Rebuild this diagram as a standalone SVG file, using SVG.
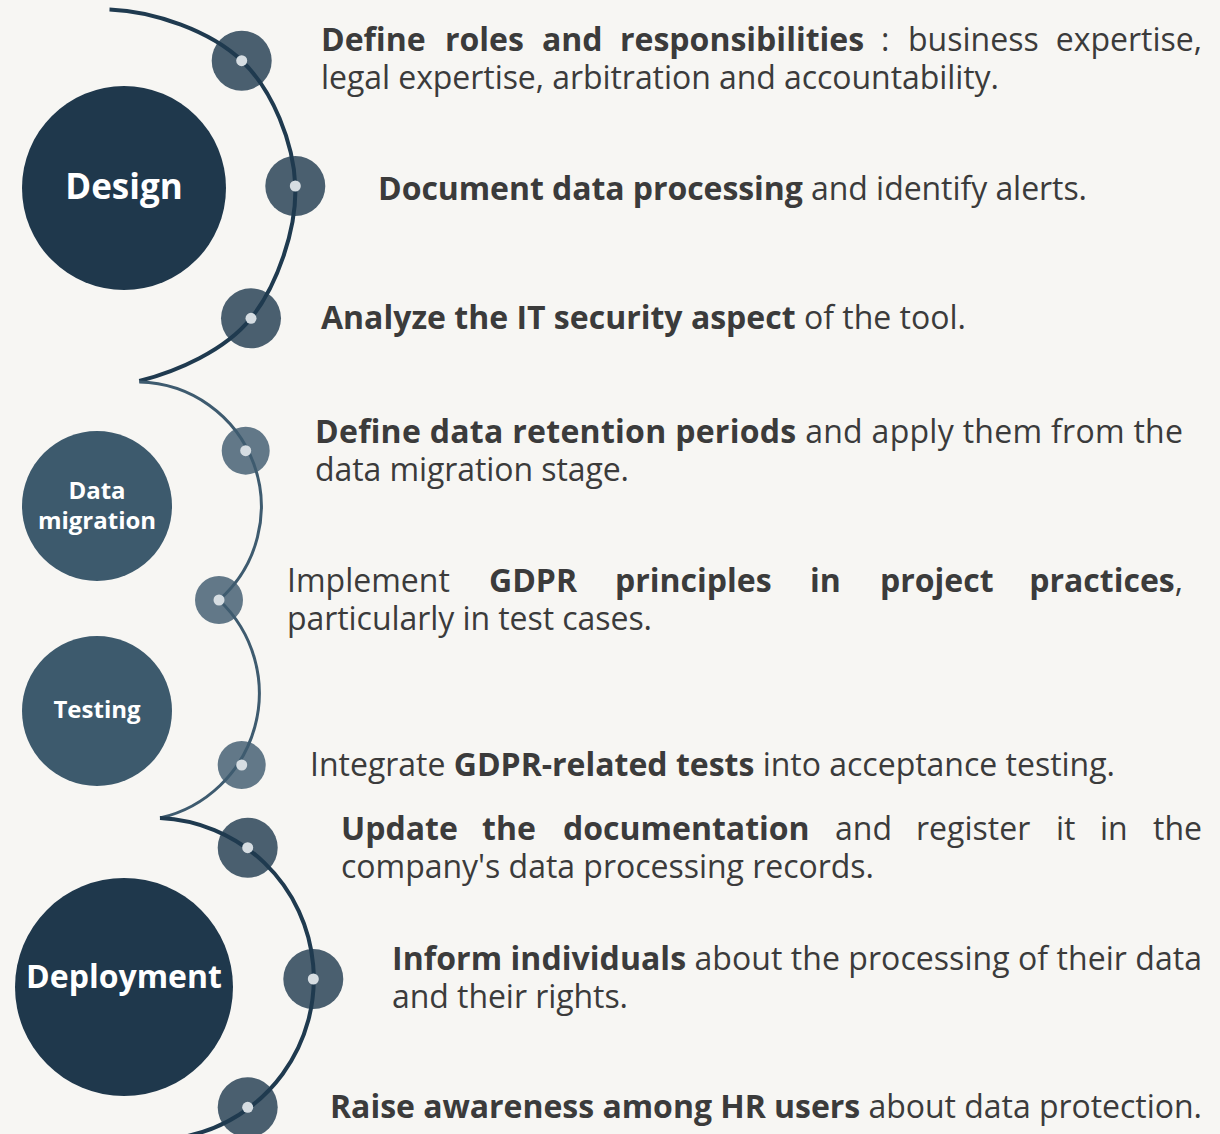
<svg xmlns="http://www.w3.org/2000/svg" width="1220" height="1134" viewBox="0 0 1220 1134">
<style>
  .t { font-family: "Open Sans", "Liberation Sans", sans-serif; font-size: 32px; fill: #3b3b3b; }
  .b { font-weight: bold; }
  .lbl { font-family: "Open Sans", "Liberation Sans", sans-serif; font-weight: bold; fill: #ffffff; text-anchor: middle; }
  .dk { fill: #1f384c; }
  .md { fill: #3d5a6d; }
  .dotA { fill: #4a5f6f; }
  .dotB { fill: #627888; }
  .pin { fill: #d6dde2; }
  .lineA { fill: none; stroke: #1f3a4f; stroke-width: 4; }
  .lineB { fill: none; stroke: #3e5b6f; stroke-width: 3; }
</style>
<rect width="1220" height="1134" fill="#f7f6f3"/>

<g id="phase-design">
  <circle class="dk" cx="124" cy="188" r="102"/>
  <text class="lbl" x="124" y="199" font-size="35">Design</text>
</g>
<g id="phase-data-migration">
  <circle class="md" cx="97" cy="506" r="75"/>
  <text class="lbl" x="97" y="499" font-size="24">Data</text>
  <text class="lbl" x="97" y="529" font-size="24">migration</text>
</g>
<g id="phase-testing">
  <circle class="md" cx="97" cy="711" r="75"/>
  <text class="lbl" x="97" y="718" font-size="24">Testing</text>
</g>
<g id="phase-deployment">
  <circle class="dk" cx="124" cy="987" r="109"/>
  <text class="lbl" x="124" y="988" font-size="32">Deployment</text>
</g>

<g id="dots-back">
  <circle class="dotA" cx="241.7" cy="60.7" r="30"/>
  <circle class="dotA" cx="295.3" cy="186" r="30"/>
  <circle class="dotA" cx="251" cy="318.3" r="30"/>
  <circle class="dotB" cx="245.7" cy="450.7" r="24"/>
  <circle class="dotB" cx="219" cy="600" r="24"/>
  <circle class="dotB" cx="241.7" cy="765" r="24"/>
  <circle class="dotA" cx="247.7" cy="847.7" r="30"/>
  <circle class="dotA" cx="313.3" cy="979" r="30"/>
  <circle class="dotA" cx="247.7" cy="1107.3" r="30"/>
</g>

<g id="connectors">
  <path class="lineA" d="M109.5,9.5 C154.5,11.2 210.7,31.3 241.7,60.7 C272.7,90.1 293.75,143.1 295.3,186 C296.85,228.9 277,286 251,318.3 C225,350.6 176.6,371.7 139.3,381"/>
  <path class="lineB" d="M139.3,382 A124.5 124.5 0 0 1 219,600"/>
  <path class="lineB" d="M219,600 A128 128 0 0 1 160,818"/>
  <path class="lineA" d="M160,818 A161 161 0 0 1 187.7,1136"/>
</g>

<g id="dots-pins">
  <circle class="pin" cx="241.7" cy="60.7" r="5.5"/>
  <circle class="pin" cx="295.3" cy="186" r="5.5"/>
  <circle class="pin" cx="251" cy="318.3" r="5.5"/>
  <circle class="pin" cx="245.7" cy="450.7" r="5.5"/>
  <circle class="pin" cx="219" cy="600" r="5.5"/>
  <circle class="pin" cx="241.7" cy="765" r="5.5"/>
  <circle class="pin" cx="247.7" cy="847.7" r="5.5"/>
  <circle class="pin" cx="313.3" cy="979" r="5.5"/>
  <circle class="pin" cx="247.7" cy="1107.3" r="5.5"/>
</g>

<g id="text-1">
  <text class="t" y="51"><tspan class="b" x="321">Define</tspan><tspan class="b" x="445">roles</tspan><tspan class="b" x="542">and</tspan><tspan class="b" x="620">responsibilities</tspan><tspan x="881">:</tspan><tspan x="908">business</tspan><tspan x="1202" text-anchor="end">expertise,</tspan></text>
  <text class="t" x="321" y="89" textLength="678" lengthAdjust="spacing">legal expertise, arbitration and accountability.</text>
</g>
<g id="text-2">
  <text class="t" x="378" y="200" textLength="709" lengthAdjust="spacing"><tspan class="b">Document data processing</tspan> and identify alerts.</text>
</g>
<g id="text-3">
  <text class="t" x="321" y="329" textLength="645" lengthAdjust="spacing"><tspan class="b">Analyze the IT security aspect</tspan> of the tool.</text>
</g>
<g id="text-4">
  <text class="t" x="315" y="443" textLength="868" lengthAdjust="spacing"><tspan class="b">Define data retention periods</tspan> and apply them from the</text>
  <text class="t" x="315" y="481" textLength="314" lengthAdjust="spacing">data migration stage.</text>
</g>
<g id="text-5">
  <text class="t" y="592"><tspan x="287">Implement</tspan><tspan class="b" x="489">GDPR</tspan><tspan class="b" x="615">principles</tspan><tspan class="b" x="810">in</tspan><tspan class="b" x="880">project</tspan><tspan class="b" x="1183" text-anchor="end">practices<tspan font-weight="normal">,</tspan></tspan></text>
  <text class="t" x="287" y="630" textLength="365" lengthAdjust="spacing">particularly in test cases.</text>
</g>
<g id="text-6">
  <text class="t" x="310" y="776" textLength="805" lengthAdjust="spacing">Integrate <tspan class="b">GDPR-related tests</tspan> into acceptance testing.</text>
</g>
<g id="text-7">
  <text class="t" y="840"><tspan class="b" x="341">Update</tspan><tspan class="b" x="482">the</tspan><tspan class="b" x="563">documentation</tspan><tspan x="835">and</tspan><tspan x="916">register</tspan><tspan x="1056">it</tspan><tspan x="1100">in</tspan><tspan x="1202" text-anchor="end">the</tspan></text>
  <text class="t" x="341" y="878" textLength="533" lengthAdjust="spacing">company's data processing records.</text>
</g>
<g id="text-8">
  <text class="t" x="392" y="970" textLength="810" lengthAdjust="spacing"><tspan class="b">Inform individuals</tspan> about the processing of their data</text>
  <text class="t" x="392" y="1008" textLength="236" lengthAdjust="spacing">and their rights.</text>
</g>
<g id="text-9">
  <text class="t" x="330" y="1118" textLength="872" lengthAdjust="spacing"><tspan class="b">Raise awareness among HR users</tspan> about data protection.</text>
</g>
</svg>
